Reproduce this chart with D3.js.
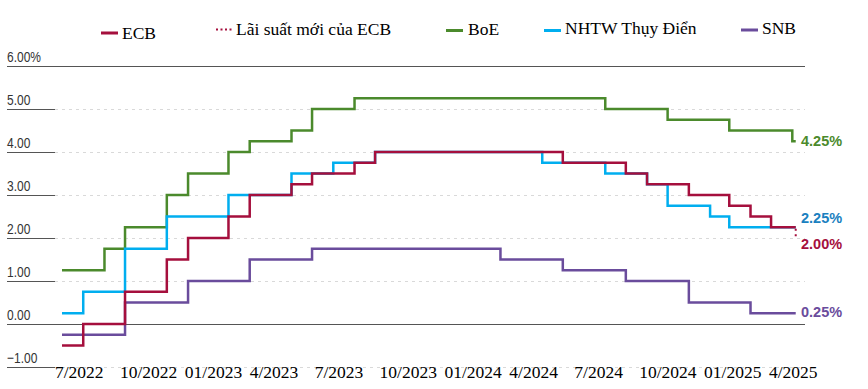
<body style="margin:0;background:#fff">
<script src="https://d3js.org/d3.v7.min.js"></script>

<style>
  svg { display: block; }
  .ytick text {
    font: 15px "Liberation Sans", Arial, sans-serif;
    fill: #333;
  }
  .xlab text, .legend text {
    font-family: "Liberation Serif", "Times New Roman", serif;
    fill: #000;
  }
  .endlab text {
    font: bold 14.5px "Liberation Sans", Arial, sans-serif;
  }
  .series path { fill: none; stroke-width: 2.5; }
</style>

<script>

  // monthly observations, Jul 2022 .. Jun 2025 (rate in force that month)
  var months = ["2022-07","2022-08","2022-09","2022-10","2022-11","2022-12",
                "2023-01","2023-02","2023-03","2023-04","2023-05","2023-06",
                "2023-07","2023-08","2023-09","2023-10","2023-11","2023-12",
                "2024-01","2024-02","2024-03","2024-04","2024-05","2024-06",
                "2024-07","2024-08","2024-09","2024-10","2024-11","2024-12",
                "2025-01","2025-02","2025-03","2025-04","2025-05","2025-06"];
  var lastDate = "2025-06-06";

  var ecb = [-0.5, 0, 0, 0.75, 0.75, 1.5, 2.0, 2.0, 2.5, 3.0, 3.0, 3.25,
             3.5, 3.5, 3.75, 4.0, 4.0, 4.0, 4.0, 4.0, 4.0, 4.0, 4.0, 4.0,
             3.75, 3.75, 3.75, 3.5, 3.25, 3.25, 3.0, 3.0, 2.75, 2.5, 2.25, 2.25];
  var ecbNew = 2.0;

  var boe = [1.25, 1.25, 1.75, 2.25, 2.25, 3.0, 3.5, 3.5, 4.0, 4.25, 4.25, 4.5,
             5.0, 5.0, 5.25, 5.25, 5.25, 5.25, 5.25, 5.25, 5.25, 5.25, 5.25, 5.25,
             5.25, 5.25, 5.0, 5.0, 5.0, 4.75, 4.75, 4.75, 4.5, 4.5, 4.5, 4.25];

  var riksbank = [0.25, 0.75, 0.75, 1.75, 1.75, 2.5, 2.5, 2.5, 3.0, 3.0, 3.0, 3.5,
                  3.5, 3.75, 3.75, 4.0, 4.0, 4.0, 4.0, 4.0, 4.0, 4.0, 4.0, 3.75,
                  3.75, 3.75, 3.5, 3.5, 3.25, 2.75, 2.75, 2.5, 2.25, 2.25, 2.25, 2.25];

  var snb = [-0.25, -0.25, -0.25, 0.5, 0.5, 0.5, 1.0, 1.0, 1.0, 1.5, 1.5, 1.5,
             1.75, 1.75, 1.75, 1.75, 1.75, 1.75, 1.75, 1.75, 1.75, 1.5, 1.5, 1.5,
             1.25, 1.25, 1.25, 1.0, 1.0, 1.0, 0.5, 0.5, 0.5, 0.25, 0.25, 0.25];

  var yTicks = [6, 5, 4, 3, 2, 1, 0, -1];
  var yTickLabels = ["6.00%", "5.00", "4.00", "3.00", "2.00", "1.00", "0.00", "\u22121.00"];
  var xLabels = ["7/2022", "10/2022", "01/2023", "4/2023", "7/2023", "10/2023",
                 "01/2024", "4/2024", "7/2024", "10/2024", "01/2025", "4/2025"];

  var legendNames = ["ECB", "L\u00e3i su\u1ea5t m\u1edbi c\u1ee7a ECB", "BoE", "NHTW Th\u1ee5y \u0110i\u1ec3n", "SNB"];

  var colors = {ecb: "#a50f3d", boe: "#4b8a2c", riks: "#00aeef", snb: "#6a4c9c"};

  var width = 868, height = 389;
  var parse = d3.timeParse("%Y-%m");
  var dates = months.map(parse);
  var endDate = d3.timeParse("%Y-%m-%d")(lastDate);

  var x = d3.scaleTime().domain([dates[0], dates[dates.length - 1]]).range([62, 792.3]);
  var y = d3.scaleLinear().domain([-1, 6]).range([367, 66]);

  var svg = d3.select("body").append("svg")
      .attr("width", width)
      .attr("height", height);

  // grid
  var grid = svg.append("g").attr("class", "ytick")
    .selectAll("g").data(yTicks).enter().append("g")
      .attr("transform", function(d) { return "translate(0," + Math.round(y(d)) + ".5)"; });

  grid.append("line")
      .attr("x1", 55).attr("x2", 805)
      .attr("stroke", function(d) { return (d === 0 || d === 6) ? "#555" : "#d9d9d9"; })
      .attr("stroke-dasharray", function(d) { return (d === 0 || d === 6) ? null : "3,4"; });
  grid.append("line")
      .attr("x1", 7).attr("x2", 55)
      .attr("stroke", "#555");
  // condensed look of the original tick labels
  grid.append("text")
      .attr("transform", "translate(7,-5) scale(0.8,1)")
      .text(function(d, i) { return yTickLabels[i]; });

  // series
  var line = d3.line()
      .x(function(d) { return x(d.date); })
      .y(function(d) { return y(d.v); })
      .curve(d3.curveStepAfter);

  function toPoints(arr) {
    var pts = arr.map(function(v, i) { return {date: dates[i], v: v}; });
    pts.push({date: endDate, v: arr[arr.length - 1]});
    return pts;
  }

  var series = [
    {key: "boe", values: boe},
    {key: "riks", values: riksbank},
    {key: "snb", values: snb},
    {key: "ecb", values: ecb}
  ];

  svg.append("g").attr("class", "series")
    .selectAll("path").data(series).enter().append("path")
      .attr("d", function(d) { return line(toPoints(d.values)); })
      .attr("stroke", function(d) { return colors[d.key]; });

  // new ECB rate, dotted
  svg.append("line")
      .attr("x1", x(endDate)).attr("x2", x(endDate))
      .attr("y1", y(ecb[ecb.length - 1]) + 1.5).attr("y2", y(ecbNew))
      .attr("stroke", colors.ecb)
      .attr("stroke-width", 2)
      .attr("stroke-dasharray", "2,3.5");

  // end labels
  var ends = [
    {v: boe[boe.length - 1], c: colors.boe, dy: 5},
    {v: riksbank[riksbank.length - 1], c: "#1a80c0", dy: -4},
    {v: ecbNew, c: colors.ecb, dy: 11},
    {v: snb[snb.length - 1], c: colors.snb, dy: 4}
  ];
  svg.append("g").attr("class", "endlab")
    .selectAll("text").data(ends).enter().append("text")
      .attr("x", 801)
      .attr("y", function(d) { return y(d.v) + d.dy; })
      .attr("fill", function(d) { return d.c; })
      .text(function(d) { return d3.format(".2f")(d.v) + "%"; });

  // x labels
  var xl = d3.scalePoint().domain(xLabels).range([55, 769]);
  svg.append("g").attr("class", "xlab")
    .selectAll("text").data(xLabels).enter().append("text")
      .attr("x", function(d) { return xl(d); })
      .attr("y", 378)
      .style("font-size", "17.5px")
      .text(function(d) { return d; });

  // legend
  var legendPos = [
    {sx: 101, sy: 33, tx: 122, ty: 39},
    {sx: 216, sy: 29.5, tx: 236, ty: 35},
    {sx: 446, sy: 30.5, tx: 468, ty: 35},
    {sx: 544, sy: 30.5, tx: 565, ty: 33.5},
    {sx: 741, sy: 30, tx: 762, ty: 34}
  ];
  var legendColors = [colors.ecb, colors.ecb, colors.boe, colors.riks, colors.snb];

  var lg = svg.append("g").attr("class", "legend")
    .selectAll("g").data(legendNames).enter().append("g");

  lg.append("line")
      .attr("x1", function(d, i) { return legendPos[i].sx; })
      .attr("x2", function(d, i) { return legendPos[i].sx + 17; })
      .attr("y1", function(d, i) { return legendPos[i].sy; })
      .attr("y2", function(d, i) { return legendPos[i].sy; })
      .attr("stroke", function(d, i) { return legendColors[i]; })
      .attr("stroke-width", function(d, i) { return i === 1 ? 2 : 3; })
      .attr("stroke-dasharray", function(d, i) { return i === 1 ? "2,2.5" : null; });

  lg.append("text")
      .attr("x", function(d, i) { return legendPos[i].tx; })
      .attr("y", function(d, i) { return legendPos[i].ty; })
      .style("font-size", "17.5px")
      .text(function(d) { return d; });

</script>
</body>
